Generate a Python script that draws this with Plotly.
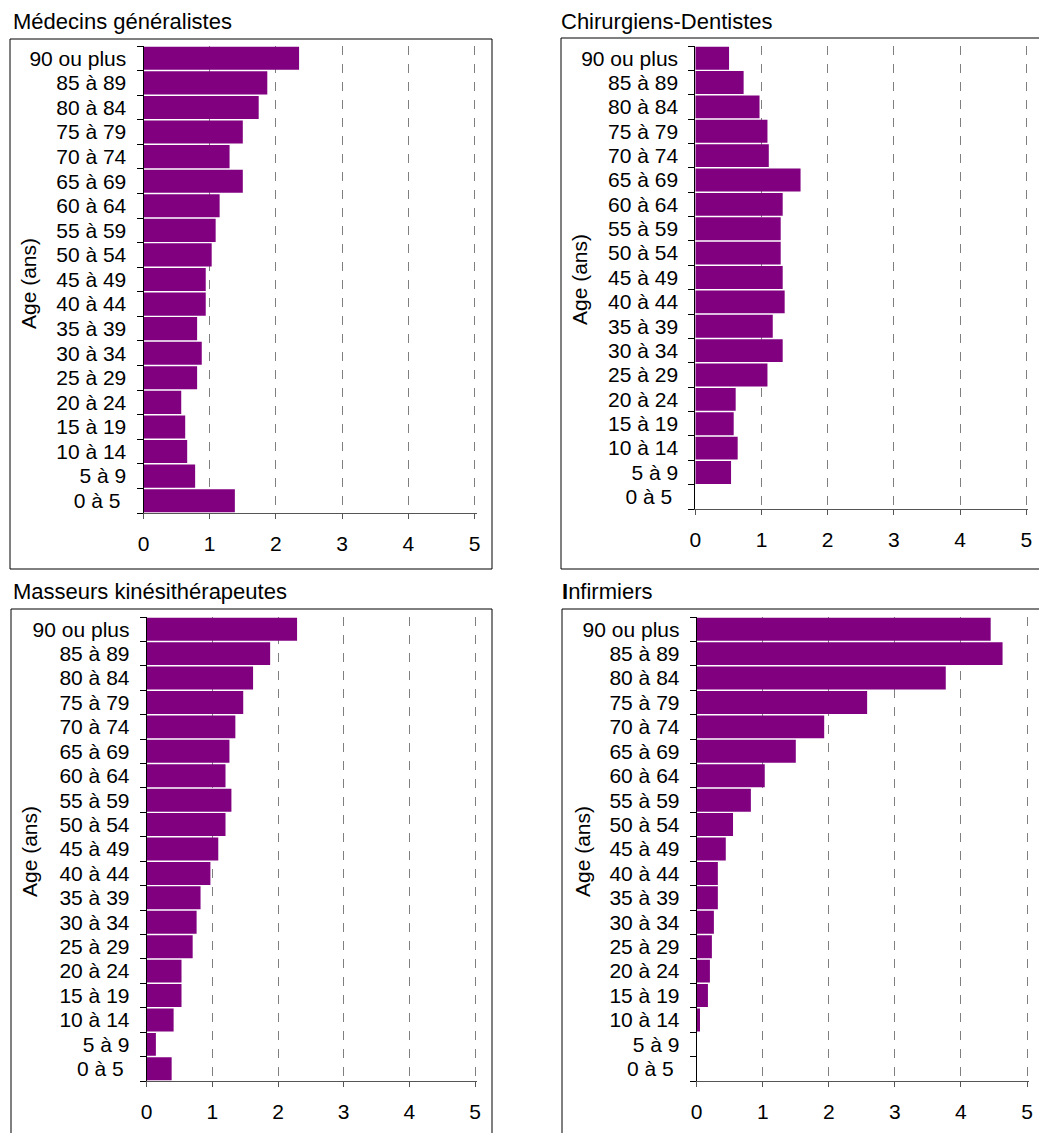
import plotly.graph_objects as go

W, H = 1039, 1133

# Age groups, top to bottom
ages = ["90 ou plus", "85 à 89", "80 à 84", "75 à 79", "70 à 74", "65 à 69",
        "60 à 64", "55 à 59", "50 à 54", "45 à 49", "40 à 44", "35 à 39",
        "30 à 34", "25 à 29", "20 à 24", "15 à 19", "10 à 14", "5 à 9",
        "0 à 5\u00a0"]

medecins = [2.35, 1.87, 1.74, 1.50, 1.30, 1.50, 1.15, 1.09, 1.03, 0.94, 0.94,
            0.81, 0.88, 0.81, 0.57, 0.63, 0.66, 0.78, 1.38]
dentistes = [0.51, 0.73, 0.97, 1.09, 1.11, 1.59, 1.32, 1.29, 1.29, 1.32, 1.35,
             1.17, 1.32, 1.09, 0.61, 0.58, 0.64, 0.54, 0.0]
kines = [2.29, 1.88, 1.62, 1.47, 1.35, 1.26, 1.20, 1.29, 1.20, 1.09, 0.97,
         0.82, 0.76, 0.70, 0.53, 0.53, 0.41, 0.14, 0.38]
infirmiers = [4.45, 4.63, 3.77, 2.58, 1.93, 1.50, 1.03, 0.82, 0.55, 0.44, 0.32,
              0.32, 0.26, 0.23, 0.20, 0.17, 0.05, 0.0, 0.0]

titles = ["Médecins généralistes", "Chirurgiens-Dentistes",
          "Masseurs kinésithérapeutes", "<b>I</b>nfirmiers"]
series = [medecins, dentistes, kines, infirmiers]
x_ticks = [0, 1, 2, 3, 4, 5]

FONT = "Liberation Sans, Arial, sans-serif"
PURPLE = "#800080"

# page-pixel geometry: plot area (x0, x1, y0, y1), frame (x0, x1, y0, y1), title pos (x, y)
plots = [(143.5, 476.5, 46, 513), (695.3, 1028.3, 46, 509),
         (146.7, 477.0, 617, 1081), (696.7, 1029.0, 617, 1081)]
frames = [(10, 492, 39, 569), (561, 1080, 38, 569),
          (11, 492, 609, 1180), (562, 1080, 609, 1180)]
title_pos = [(11, 21), (559, 21), (11, 591), (560, 591)]
ytitle_pos = [(28, 284), (580, 280), (30, 852), (583, 852)]


def px(v):
    return v / W


def py(v):
    return 1 - v / H


fig = go.Figure()
shapes = []
annotations = []
for i in range(4):
    ax = "" if i == 0 else str(i + 1)
    fig.add_trace(go.Bar(x=series[i], y=ages, orientation="h",
                         marker=dict(color=PURPLE, line=dict(width=0)),
                         xaxis="x" + ax, yaxis="y" + ax, showlegend=False))
    x0, x1, y0, y1 = plots[i]
    fig.update_layout(**{
        "xaxis" + ax: dict(domain=[px(x0), px(x1)], anchor="y" + ax,
                           range=[0, 5.03], tickmode="array", tickvals=x_ticks,
                           showgrid=True, gridcolor="#7f7f7f", griddash="dash", gridwidth=1,
                           zeroline=False, showline=True, linecolor="#555555", linewidth=1,
                           ticks="outside", ticklen=5, tickcolor="#555555",
                           tickfont=dict(family=FONT, size=21, color="black"),
                           ticklabelstandoff=7, automargin=False, fixedrange=True),
        "yaxis" + ax: dict(domain=[py(y1), py(y0)], anchor="x" + ax,
                           type="category", autorange="reversed",
                           tickmode="array", tickvals=ages,
                           showgrid=False, zeroline=False, showline=True,
                           linecolor="black", linewidth=1,
                           ticks="outside", tickson="boundaries", ticklen=6,
                           tickcolor="black",
                           tickfont=dict(family=FONT, size=21, color="black"),
                           ticklabelstandoff=12, automargin=False, fixedrange=True),
    })
    fx0, fx1, fy0, fy1 = frames[i]
    shapes.append(dict(type="rect", xref="paper", yref="paper",
                       x0=px(fx0), x1=px(fx1), y0=py(fy1), y1=py(fy0),
                       line=dict(color="black", width=1), fillcolor="rgba(0,0,0,0)"))
    tx, ty = title_pos[i]
    annotations.append(dict(text=titles[i], xref="paper", yref="paper",
                            x=px(tx), y=py(ty), xanchor="left", yanchor="middle",
                            showarrow=False,
                            font=dict(family=FONT, size=22, color="black")))
    ax_x, ax_y = ytitle_pos[i]
    annotations.append(dict(text="Age (ans)", xref="paper", yref="paper",
                            x=px(ax_x), y=py(ax_y), xanchor="center", yanchor="middle",
                            textangle=-90, showarrow=False,
                            font=dict(family=FONT, size=21, color="black")))

fig.update_layout(width=W, height=H, margin=dict(l=0, r=0, t=0, b=0, autoexpand=False),
                  paper_bgcolor="white", plot_bgcolor="white",
                  bargap=0.06, shapes=shapes, annotations=annotations,
                  font=dict(family=FONT, color="black"), hovermode=False)

fig.write_html("out.html",
               config={"displayModeBar": False, "staticPlot": True},
               post_script="document.body.style.margin='0';"
                           "document.body.style.overflow='hidden';")
